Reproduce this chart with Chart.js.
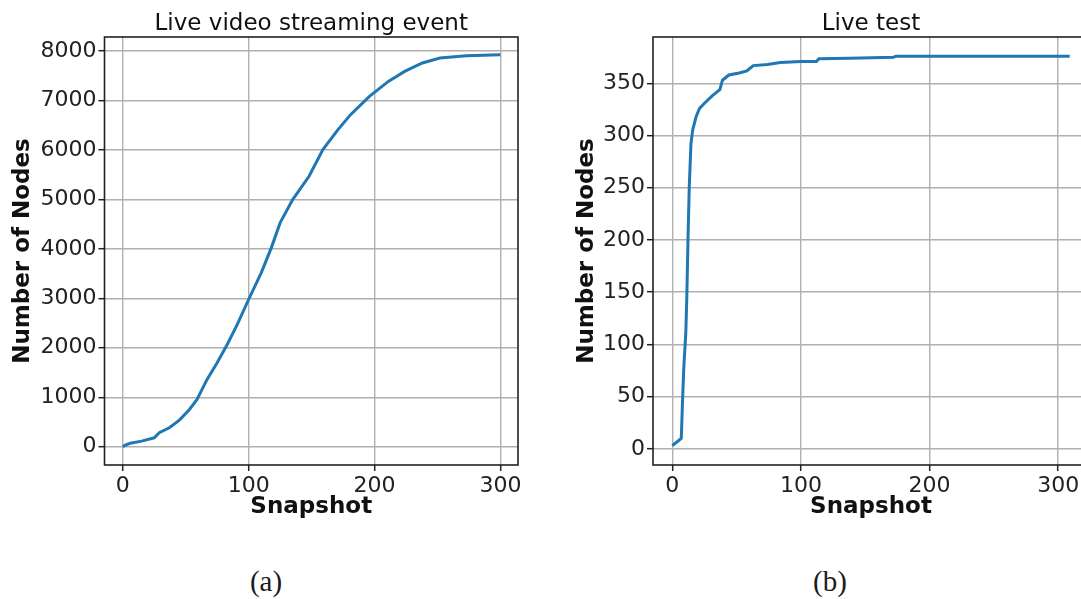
<!DOCTYPE html>
<html>
<head>
<meta charset="utf-8">
<script src="https://cdn.jsdelivr.net/npm/chart.js@4.4.1/dist/chart.umd.min.js"></script>
<style>
  html, body { margin: 0; padding: 0; background: #fff; overflow: hidden; width: 1081px; height: 599px; }
  .box { position: absolute; top: 0; height: 521px; }
  .cap { position: absolute; top: 567px; width: 100px; text-align: center; font-family: 'Liberation Serif', serif; font-size: 29px; line-height: 29px; color: #1a1a1a; }
</style>
</head>
<body>
<div class="box" style="left:0; width:540px;"><canvas id="chartA"></canvas></div>
<div class="box" style="left:540px; width:549px;"><canvas id="chartB"></canvas></div>
<div class="cap" style="left:216px;">(a)</div>
<div class="cap" style="left:780px;">(b)</div>

<script>
// (a) live video streaming event
const snapA  = [0, 3, 6, 15, 25, 29, 37, 45, 53, 59, 67, 75, 83, 91, 100, 110, 118, 125, 135, 148, 159, 171, 181, 196, 211, 224, 238, 252, 273, 300];
const nodesA = [0, 40, 70, 113, 180, 283, 383, 537, 753, 955, 1360, 1697, 2067, 2471, 2976, 3515, 4020, 4525, 4996, 5467, 6006, 6410, 6713, 7083, 7386, 7588, 7757, 7858, 7905, 7922];
const xTicksA = [0, 100, 200, 300];
const yTicksA = [0, 1000, 2000, 3000, 4000, 5000, 6000, 7000, 8000];

// (b) live test
const snapB  = [0, 5, 7, 8, 9, 10.5, 11.3, 12.3, 13.2, 14.5, 15.8, 18.5, 21.2, 25, 31, 36, 37, 39, 44, 52, 58, 60, 63, 74, 84, 100, 112, 114, 138, 172, 174, 309];
const nodesB = [3, 8, 10, 47, 79, 111, 146, 206, 251, 292, 305, 318, 326, 331, 338, 343, 344, 353, 358, 360, 362, 364, 367, 368, 370, 371, 371, 373.5, 374, 375, 376, 376];
const xTicksB = [0, 100, 200, 300];
const yTicksB = [0, 50, 100, 150, 200, 250, 300, 350];

const FONT = 'DejaVu Sans';

// box round the plot area, like matplotlib spines
const frame = {
    id: 'frame',
    afterDatasetsDraw(chart) {
        const a = chart.chartArea, ctx = chart.ctx;
        ctx.save();
        ctx.strokeStyle = '#222';
        ctx.lineWidth = 1.6;
        ctx.strokeRect(a.left, a.top, a.right - a.left, a.bottom - a.top);
        ctx.restore();
    }
};

function makeChart(id, title, xs, ys, xr, yr, xt, yt, yWidth, yTitlePad, padRight) {
    const ctx = document.getElementById(id).getContext('2d');
    const grid = { color: '#b0b0b0', lineWidth: 1.4, tickColor: '#222', tickLength: 6, tickWidth: 1.5 };
    const tickFont = { family: FONT, size: 22 };
    const labelFont = { family: FONT, size: 23, weight: 'bold', lineHeight: 1.2 };
    return new Chart(ctx, {
        type: 'line',
        data: { datasets: [{ data: xs.map((x, i) => ({ x: x, y: ys[i] })), borderColor: '#1f77b4', borderWidth: 3, pointRadius: 0, tension: 0, fill: false }] },
        plugins: [frame],
        options: {
            responsive: true, maintainAspectRatio: false, animation: false,
            layout: { padding: { left: 0, right: padRight, top: 0, bottom: 0 } },
            plugins: {
                legend: { display: false }, tooltip: { enabled: false },
                title: { display: true, fullSize: false, text: title, color: '#111', font: { family: FONT, size: 23, weight: 'normal', lineHeight: 25 / 23 }, padding: { top: 12, bottom: 0 } }
            },
            scales: {
                x: {
                    type: 'linear', min: xr[0], max: xr[1],
                    afterBuildTicks: s => { s.ticks = xt.map(v => ({ value: v })); },
                    afterFit: s => { s.height = 56; },
                    grid: grid, border: { display: false },
                    ticks: { color: '#222', font: tickFont, padding: 2, maxRotation: 0, autoSkip: false, callback: v => String(v) },
                    title: { display: true, text: 'Snapshot', color: '#111', font: labelFont, padding: { top: 0, bottom: 0 } }
                },
                y: {
                    type: 'linear', min: yr[0], max: yr[1],
                    afterBuildTicks: s => { s.ticks = yt.map(v => ({ value: v })); },
                    afterFit: s => { s.width = yWidth; },
                    grid: grid, border: { display: false },
                    ticks: { color: '#222', font: tickFont, padding: 2, autoSkip: false, callback: v => String(v) },
                    title: { display: true, text: 'Number of Nodes', color: '#111', font: labelFont, padding: { top: yTitlePad, bottom: 0 } }
                }
            }
        }
    });
}

makeChart('chartA', 'Live video streaming event', snapA, nodesA, [-14.5, 314], [-370, 8283], xTicksA, yTicksA, 104.5, 9.2, 22);
makeChart('chartB', 'Live test', snapB, nodesB, [-15, 324], [-15.5, 394.4], xTicksB, yTicksB, 113, 33.7, 0);
</script>
</body>
</html>
